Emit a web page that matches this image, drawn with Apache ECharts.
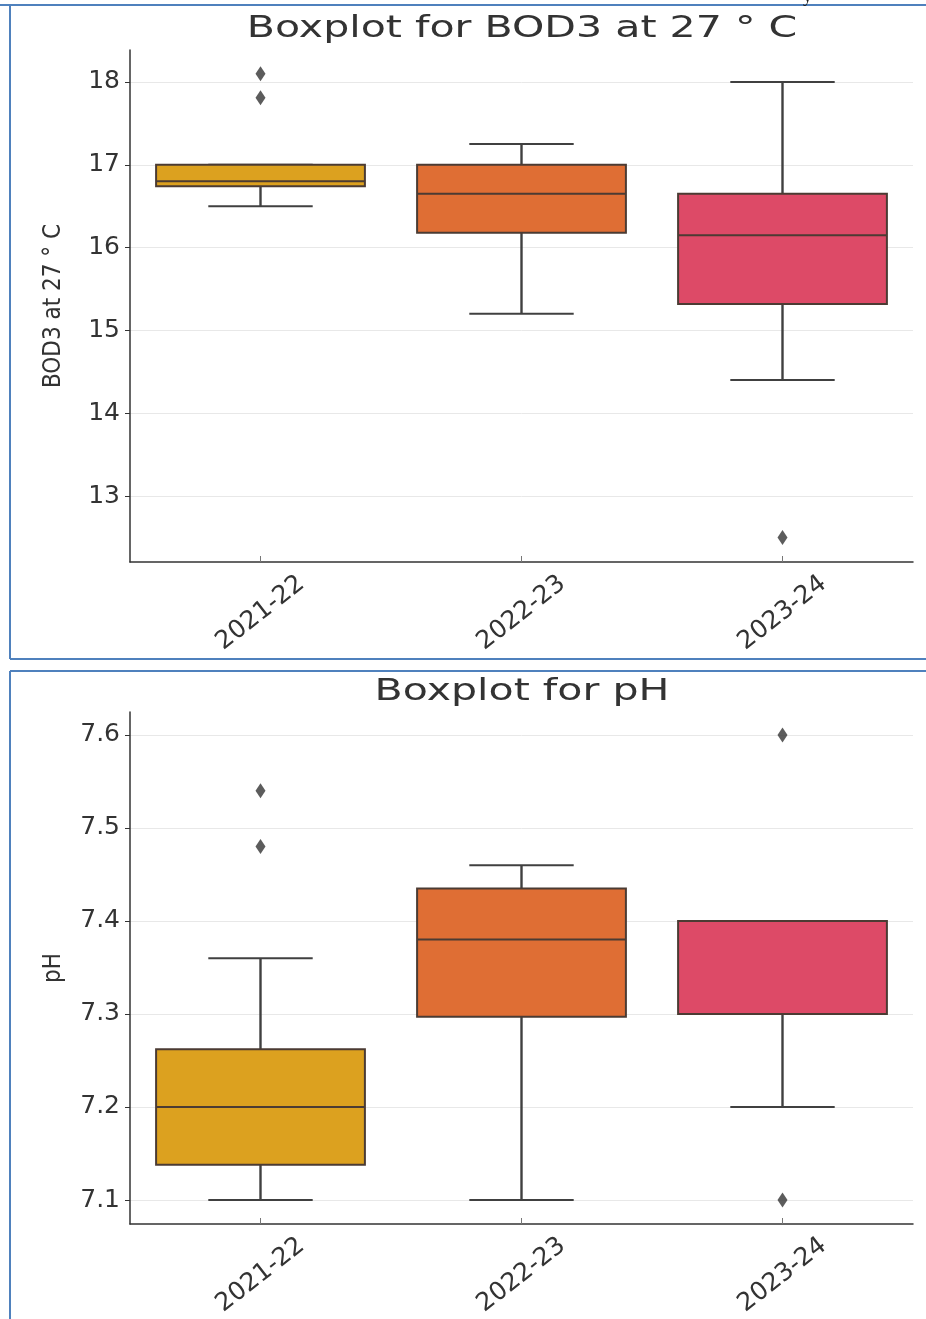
<!DOCTYPE html>
<html>
<head>
<meta charset="utf-8">
<script src="https://cdn.jsdelivr.net/npm/echarts@6/dist/echarts.min.js"></script>
<style>
html,body{margin:0;padding:0;background:#fff;}
#chart{width:926px;height:1319px;}
</style>
</head>
<body>
<div id="chart"></div>
<script>
// ---- data ----
const categories = ['2021-22', '2022-23', '2023-24'];

const bodTitle = 'Boxplot for BOD3 at 27 ° C';
const bodAxisName = 'BOD3 at 27 ° C';
const bodMin    = [16.50, 15.20, 14.40];
const bodQ1     = [16.74, 16.18, 15.32];
const bodMedian = [16.80, 16.65, 16.15];
const bodQ3     = [17.00, 17.00, 16.65];
const bodMax    = [17.00, 17.25, 18.00];
const bodOutliers = [[0, 18.10], [0, 17.81], [2, 12.50]];

const phTitle = 'Boxplot for pH';
const phAxisName = 'pH';
const phMin    = [7.100, 7.100, 7.200];
const phQ1     = [7.138, 7.297, 7.300];
const phMedian = [7.200, 7.380, 7.400];
const phQ3     = [7.262, 7.435, 7.400];
const phMax    = [7.360, 7.460, 7.400];
const phOutliers = [[0, 7.54], [0, 7.48], [2, 7.60], [2, 7.10]];

const boxColors = ['#dca11f', '#df6e34', '#dd4a67'];
const edgeColor = '#4b3b33';
const whiskerColor = '#404040';
const font = "'DejaVu Sans', sans-serif";

function buildBoxData(mn, q1, md, q3, mx) {
  return categories.map((c, i) => [i, mn[i], q1[i], md[i], q3[i], mx[i]]);
}

function renderBox(params, api) {
  const i = api.value(0);
  const cx = api.coord([i, api.value(3)])[0];
  const band = api.size([1, 0])[0];
  const bw = band * 0.8;
  const cap = bw * 0.5;
  const yMin = api.coord([i, api.value(1)])[1];
  const yQ1 = api.coord([i, api.value(2)])[1];
  const yMed = api.coord([i, api.value(3)])[1];
  const yQ3 = api.coord([i, api.value(4)])[1];
  const yMax = api.coord([i, api.value(5)])[1];
  const lw = 2;
  const wl = 2.4;
  return {
    type: 'group',
    children: [
      {type: 'line', shape: {x1: cx, y1: yQ1, x2: cx, y2: yMin}, style: {stroke: whiskerColor, lineWidth: wl}},
      {type: 'line', shape: {x1: cx - cap / 2, y1: yMin, x2: cx + cap / 2, y2: yMin}, style: {stroke: whiskerColor, lineWidth: lw}},
      {type: 'line', shape: {x1: cx, y1: yQ3, x2: cx, y2: yMax}, style: {stroke: whiskerColor, lineWidth: wl}},
      {type: 'line', shape: {x1: cx - cap / 2, y1: yMax, x2: cx + cap / 2, y2: yMax}, style: {stroke: whiskerColor, lineWidth: lw}},
      {type: 'rect', shape: {x: cx - bw / 2, y: yQ3, width: bw, height: yQ1 - yQ3},
        style: {fill: boxColors[i], stroke: edgeColor, lineWidth: lw}},
      {type: 'line', shape: {x1: cx - bw / 2, y1: yMed, x2: cx + bw / 2, y2: yMed}, style: {stroke: edgeColor, lineWidth: lw}}
    ]
  };
}

function yAxisCfg(gridIndex, name, min, max, nameGap) {
  return {
    type: 'value', gridIndex: gridIndex, min: min, max: max, splitNumber: 6,
    name: name, nameLocation: 'middle', nameGap: nameGap,
    nameTextStyle: {fontFamily: "'DejaVu Sans Condensed', 'Liberation Sans Narrow', sans-serif", fontSize: 24, color: '#333'},
    axisLine: {show: true, lineStyle: {color: '#333', width: 1.5}},
    axisTick: {show: true, length: 5, lineStyle: {color: '#333'}},
    axisLabel: {fontFamily: font, fontSize: 25, color: '#333', margin: 10, showMinLabel: false, showMaxLabel: false},
    splitLine: {show: true, showMinLine: false, showMaxLine: false, lineStyle: {color: '#e8e8e8', width: 1}}
  };
}

function xAxisCfg(gridIndex) {
  return {
    type: 'category', gridIndex: gridIndex, data: categories, boundaryGap: true,
    axisLine: {show: true, lineStyle: {color: '#333', width: 1.5}},
    axisTick: {show: true, alignWithLabel: true, inside: true, length: 6, lineStyle: {color: '#777'}},
    axisLabel: {fontFamily: font, fontSize: 25, color: '#333', rotate: 38, margin: 51,
      align: 'center', verticalAlign: 'middle'},
    splitLine: {show: false}
  };
}

function titleText(text, y) {
  return {type: 'text', x: 522, y: y, scaleX: 1.37, z: 50,
    style: {text: text, font: "30px 'DejaVu Sans', sans-serif", fill: '#333',
      textAlign: 'center', textVerticalAlign: 'middle'}};
}

const chart = echarts.init(document.getElementById('chart'), null, {renderer: 'canvas'});
chart.setOption({
  backgroundColor: '#ffffff',
  animation: false,
  grid: [
    {left: 130, top: 50, width: 783, height: 512},
    {left: 130, top: 712, width: 783, height: 512}
  ],
  xAxis: [xAxisCfg(0), xAxisCfg(1)],
  yAxis: [
    yAxisCfg(0, bodAxisName, 12.203, 18.386, 64),
    yAxisCfg(1, phAxisName, 7.0742, 7.6247, 64)
  ],
  series: [
    {type: 'custom', xAxisIndex: 0, yAxisIndex: 0, renderItem: renderBox,
      encode: {x: 0, y: [1, 2, 3, 4, 5]}, data: buildBoxData(bodMin, bodQ1, bodMedian, bodQ3, bodMax), z: 2},
    {type: 'scatter', xAxisIndex: 0, yAxisIndex: 0, symbol: 'diamond', symbolSize: [10, 15],
      itemStyle: {color: '#333333'}, data: bodOutliers, z: 3},
    {type: 'custom', xAxisIndex: 1, yAxisIndex: 1, renderItem: renderBox,
      encode: {x: 0, y: [1, 2, 3, 4, 5]}, data: buildBoxData(phMin, phQ1, phMedian, phQ3, phMax), z: 2},
    {type: 'scatter', xAxisIndex: 1, yAxisIndex: 1, symbol: 'diamond', symbolSize: [10, 15],
      itemStyle: {color: '#333333'}, data: phOutliers, z: 3}
  ],
  graphic: [
    titleText(bodTitle, 29),
    titleText(phTitle, 692),
    {type: 'line', shape: {x1: 0, y1: 5, x2: 926, y2: 5}, style: {stroke: '#4f81bd', lineWidth: 2}, z: 100},
    {type: 'line', shape: {x1: 10, y1: 5, x2: 10, y2: 659}, style: {stroke: '#4f81bd', lineWidth: 2}, z: 100},
    {type: 'line', shape: {x1: 10, y1: 659, x2: 926, y2: 659}, style: {stroke: '#4f81bd', lineWidth: 2}, z: 100},
    {type: 'line', shape: {x1: 10, y1: 671, x2: 926, y2: 671}, style: {stroke: '#4f81bd', lineWidth: 2}, z: 100},
    {type: 'line', shape: {x1: 10, y1: 671, x2: 10, y2: 1319}, style: {stroke: '#4f81bd', lineWidth: 2}, z: 100},
    {type: 'text', left: 803, top: -12, style: {text: 'y', font: "18px 'Liberation Serif', serif", fill: '#222'}, z: 100}
  ]
});
</script>
</body>
</html>
